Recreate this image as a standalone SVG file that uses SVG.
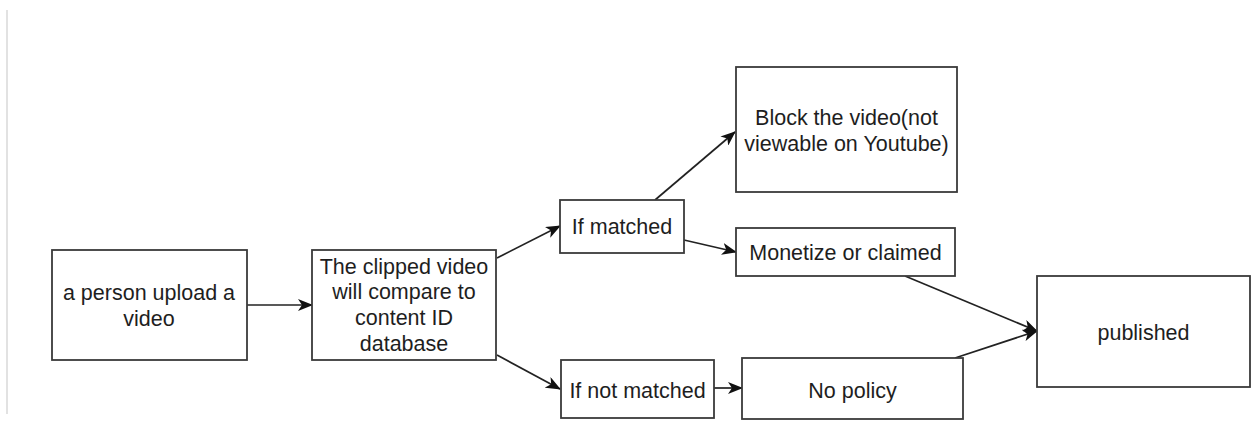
<svg xmlns="http://www.w3.org/2000/svg" width="1255" height="421" viewBox="0 0 1255 421">
  <style>
    .box { fill: #ffffff; stroke: #3a3a3a; stroke-width: 1.8; }
    .lbl { font-family: "Liberation Sans", Arial, Helvetica, sans-serif; font-size: 21.5px; fill: #1e1e1e; text-anchor: middle; }
    .edge { fill: none; stroke: #222222; stroke-width: 1.7; }
  </style>
  <defs>
    <marker id="arrow" viewBox="0 0 15 12" refX="14" refY="6" markerWidth="15" markerHeight="12" markerUnits="userSpaceOnUse" orient="auto">
      <path d="M0,0 L15,6 L0,12 L4,6 Z" fill="#111111"/>
    </marker>
  </defs>

  <rect width="1255" height="421" fill="#ffffff"/>
  <!-- page margin rule -->
  <line x1="7" y1="10" x2="7" y2="414" stroke="#e2e2e2" stroke-width="2"/>

  <g id="connectors">
    <line class="edge" x1="247" y1="305" x2="312" y2="305" marker-end="url(#arrow)"/>
    <line class="edge" x1="497" y1="258" x2="560" y2="226" marker-end="url(#arrow)"/>
    <line class="edge" x1="497" y1="355" x2="560" y2="389" marker-end="url(#arrow)"/>
    <line class="edge" x1="655" y1="200" x2="735" y2="132" marker-end="url(#arrow)"/>
    <line class="edge" x1="684" y1="240" x2="736" y2="252" marker-end="url(#arrow)"/>
    <line class="edge" x1="714" y1="388" x2="742" y2="388" marker-end="url(#arrow)"/>
    <line class="edge" x1="905" y1="276" x2="1037" y2="331" marker-end="url(#arrow)"/>
    <line class="edge" x1="955" y1="358" x2="1037" y2="331" marker-end="url(#arrow)"/>
  </g>

  <g id="upload">
    <rect class="box" x="52" y="250" width="195" height="110"/>
    <text class="lbl" x="149" y="300">a person upload a</text>
    <text class="lbl" x="149" y="326">video</text>
  </g>

  <g id="compare">
    <rect class="box" x="312" y="250" width="184" height="110"/>
    <text class="lbl" x="404" y="274">The clipped video</text>
    <text class="lbl" x="404" y="299">will compare to</text>
    <text class="lbl" x="404" y="325">content ID</text>
    <text class="lbl" x="404" y="351">database</text>
  </g>

  <g id="matched">
    <rect class="box" x="560" y="200" width="124" height="53"/>
    <text class="lbl" x="622" y="234">If matched</text>
  </g>

  <g id="not-matched">
    <rect class="box" x="561" y="360" width="153" height="58"/>
    <text class="lbl" x="637.5" y="398">If not matched</text>
  </g>

  <g id="block">
    <rect class="box" x="736" y="67" width="221" height="125"/>
    <text class="lbl" x="846.5" y="125">Block the video(not</text>
    <text class="lbl" x="846.5" y="151">viewable on Youtube)</text>
  </g>

  <g id="monetize">
    <rect class="box" x="736" y="228" width="219" height="48"/>
    <text class="lbl" x="845.5" y="260">Monetize or claimed</text>
  </g>

  <g id="no-policy">
    <rect class="box" x="742" y="358" width="221" height="61"/>
    <text class="lbl" x="852.5" y="398">No policy</text>
  </g>

  <g id="published">
    <rect class="box" x="1037" y="276" width="213" height="111"/>
    <text class="lbl" x="1143.5" y="340">published</text>
  </g>
</svg>
